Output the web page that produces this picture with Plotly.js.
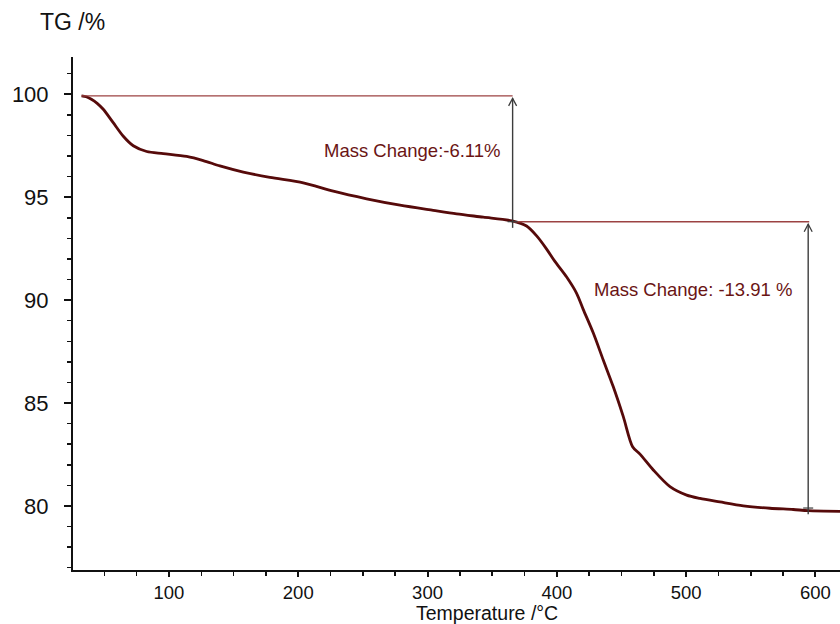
<!DOCTYPE html>
<html>
<head>
<meta charset="utf-8">
<script src="https://cdn.plot.ly/plotly-3.0.1.min.js"></script>
<style>
  html, body { margin: 0; padding: 0; background: #ffffff; }
  #tg { width: 840px; height: 624px; }
</style>
</head>
<body>
<div id="tg"></div>
<script>
// TG curve: temperature (°C) and residual mass (%)
const temperature = [32.4, 36.0, 40.0, 44.5, 49.2, 56.9, 64.7, 72.4, 82.8, 95.6,
  113.7, 126.5, 139.4, 157.5, 178.1, 203.9, 227.1, 252.9, 278.7, 304.4,
  322.5, 343.1, 365.3, 376.6, 384.4, 392.1, 398.5, 407.6, 415.3, 420.4,
  428.2, 435.9, 443.6, 451.4, 458.6, 464.3, 474.6, 487.5, 500.4, 510.7,
  526.1, 544.2, 564.8, 582.8, 594.4, 619.0];
const mass = [99.92, 99.88, 99.76, 99.56, 99.27, 98.62, 97.96, 97.50, 97.22, 97.12,
  96.98, 96.78, 96.52, 96.22, 95.96, 95.70, 95.29, 94.92, 94.61, 94.36,
  94.19, 94.03, 93.85, 93.60, 93.12, 92.48, 91.88, 91.12, 90.33, 89.55,
  88.40, 87.09, 85.80, 84.34, 82.88, 82.52, 81.75, 80.94, 80.53, 80.37,
  80.20, 80.01, 79.89, 79.83, 79.77, 79.74];

// Mass-loss steps: start/end temperatures and the reported changes (%)
const stepTemps = [32.4, 365.8, 594.4];
const massChanges = [-6.11, -13.91];
const stepLabels = ['Mass Change:-6.11%', 'Mass Change: -13.91 %'];
const startMass = 99.92;

// Axis ticks
const xTickVals = [100, 200, 300, 400, 500, 600];
const yTickVals = [80, 85, 90, 95, 100];

// Plateau levels derived from the reported changes
const levels = [startMass];
massChanges.forEach(d => levels.push(+(levels[levels.length - 1] + d).toFixed(2)));

const curveColor = '#560a0a';
const levelColor = '#9c4242';
const arrowColor = '#3c3c3c';
const labelColor = '#6a1414';
const font = 'Liberation Sans, Arial, sans-serif';

const shapes = [];
// level lines
shapes.push({type: 'line', xref: 'x', yref: 'y', x0: stepTemps[0], x1: stepTemps[1],
  y0: levels[0], y1: levels[0], line: {color: levelColor, width: 1.4}});
shapes.push({type: 'line', xref: 'x', yref: 'y', x0: stepTemps[1], x1: stepTemps[2] + 0.8,
  y0: levels[1], y1: levels[1], line: {color: levelColor, width: 1.4}});
// vertical measuring arrows (open chevron at the top)
for (let i = 0; i < 2; i++) {
  const xT = stepTemps[i + 1];
  const bottom = levels[i + 1] - 0.3;
  shapes.push({type: 'line', xref: 'x', yref: 'y', x0: xT, x1: xT,
    y0: bottom, y1: levels[i] - 0.12, line: {color: arrowColor, width: 1.4}});
  shapes.push({type: 'path', xref: 'x', yref: 'y', xsizemode: 'pixel', ysizemode: 'pixel',
    xanchor: xT, yanchor: levels[i], path: 'M -4,-10 L 0,-2.5 L 4,-10',
    line: {color: arrowColor, width: 1.3}});
  // small cross tick at the curve
  shapes.push({type: 'line', xref: 'x', yref: 'y', xsizemode: 'pixel', xanchor: xT,
    x0: -5, x1: 5, y0: levels[i + 1], y1: levels[i + 1],
    line: {color: arrowColor, width: 1.2}});
}

const annotations = [
  {xref: 'x', yref: 'y', x: 288, y: 97.29, text: stepLabels[0], showarrow: false,
   xanchor: 'center', yanchor: 'middle', font: {family: font, size: 18.5, color: labelColor}},
  {xref: 'x', yref: 'y', x: 505, y: 90.50, text: stepLabels[1], showarrow: false,
   xanchor: 'center', yanchor: 'middle', font: {family: font, size: 18.5, color: labelColor}},
  {xref: 'paper', yref: 'paper', x: 0.54, y: 0, yshift: -43, text: 'Temperature /°C', showarrow: false,
   xanchor: 'center', yanchor: 'middle', font: {family: font, size: 19.5, color: '#111111'}},
  {xref: 'paper', yref: 'paper', x: -0.001, y: 1.068, text: 'TG /%', showarrow: false,
   xanchor: 'center', yanchor: 'middle', font: {family: font, size: 23, color: '#111111'}}
];

const trace = {
  x: temperature, y: mass, type: 'scatter', mode: 'lines',
  line: {color: curveColor, width: 2.8, shape: 'spline', smoothing: 0.8},
  hoverinfo: 'x+y', showlegend: false
};

const layout = {
  width: 840, height: 624,
  margin: {l: 73, r: 0, t: 57, b: 54},
  paper_bgcolor: '#ffffff', plot_bgcolor: '#ffffff',
  showlegend: false,
  xaxis: {
    range: [25.8, 619], tickvals: xTickVals, ticktext: xTickVals.map(String),
    showline: true, linecolor: '#111111', linewidth: 2,
    ticks: 'outside', ticklen: 5, tickwidth: 2, tickcolor: '#111111',
    minor: {dtick: 25, tick0: 0, ticks: 'outside', ticklen: 3.5, tickwidth: 1.5, tickcolor: '#111111', showgrid: false},
    showgrid: false, zeroline: false,
    tickfont: {family: font, size: 18.5, color: '#111111'}
  },
  yaxis: {
    range: [76.89, 101.81], tickvals: yTickVals, ticktext: yTickVals.map(String),
    showline: true, linecolor: '#111111', linewidth: 2,
    ticks: 'outside', ticklen: 7, tickwidth: 2, tickcolor: '#111111',
    minor: {dtick: 1, tick0: 0, ticks: 'outside', ticklen: 4, tickwidth: 1.5, tickcolor: '#111111', showgrid: false},
    showgrid: false, zeroline: false, ticklabelstandoff: 11,
    tickfont: {family: font, size: 22, color: '#111111'}
  },
  shapes: shapes,
  annotations: annotations
};

Plotly.newPlot('tg', [trace], layout, {staticPlot: true, displayModeBar: false});
</script>
</body>
</html>
